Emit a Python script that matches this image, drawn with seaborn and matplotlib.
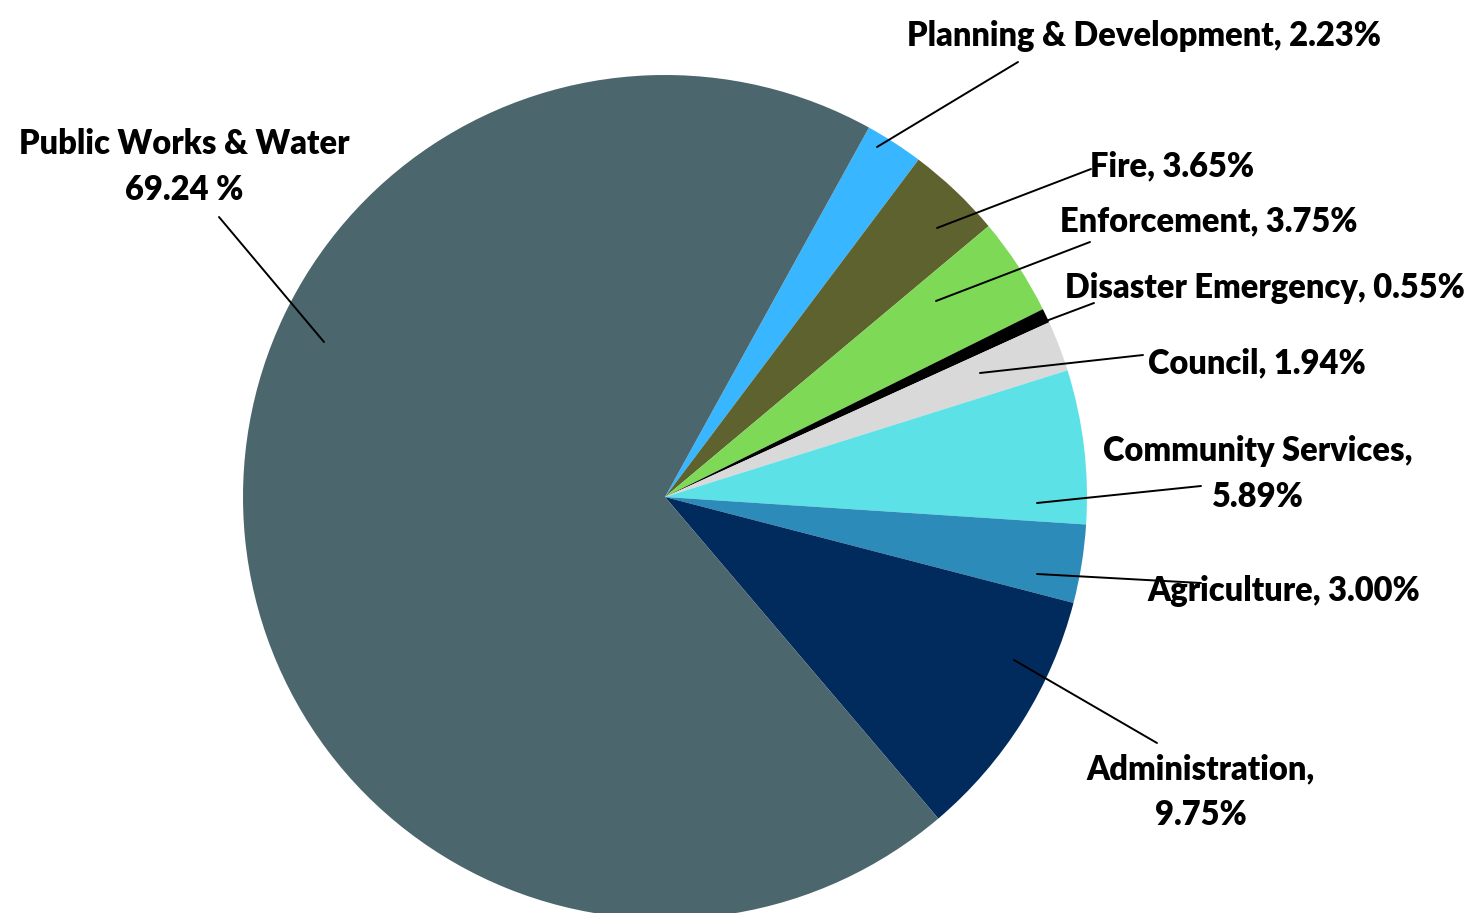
import numpy as np
import seaborn as sns
import matplotlib.pyplot as plt

# data (clockwise from the top)
departamentos = ["Planning & Development", "Fire", "Enforcement", "Disaster Emergency",
                 "Council", "Community Services", "Agriculture", "Administration",
                 "Public Works & Water"]
porcentajes = [2.23, 3.65, 3.75, 0.55, 1.94, 5.89, 3.00, 9.75, 69.24]
colores = ["#38b6ff", "#5e622f", "#7ed957", "#000000", "#d9d9d9",
           "#5ce1e6", "#2d8bba", "#022b5d", "#4b666c"]
etiquetas = ["Planning & Development, 2.23%", "Fire, 3.65%", "Enforcement, 3.75%",
             "Disaster Emergency, 0.55%", "Council, 1.94%", "Community Services,\n5.89%",
             "Agriculture, 3.00%", "Administration,\n9.75%", "Public Works & Water\n69.24 %"]

# label layout in pixels: leader line ends, then text anchor (baseline of last line)
W, H = 1484, 913
lineas = [((877, 147), (1018, 62)), ((937, 228), (1091, 169)), ((936, 301), (1090, 242)),
          ((1046, 321), (1094, 303)), ((980, 373), (1143, 355)), ((1037, 503), (1201, 486)),
          ((1037, 574), (1201, 583)), ((1014, 660), (1157, 743)), ((324, 342), (219, 217))]
textos = [(907, 46, "left"), (1090, 176, "left"), (1060, 231, "left"), (1065, 298, "left"),
          (1148, 373, "left"), (1258, 507, "center"), (1147, 601, "left"),
          (1201, 825, "center"), (184, 200, "center")]

sns.set_theme(style="white")
plt.rcParams['font.family'] = ['Lato', 'DejaVu Sans']

fig = plt.figure(figsize=(W / 100, H / 100), dpi=100)
cx, cy, r = 665, 497, 422
ax = fig.add_axes([(cx - r) / W, (H - cy - r) / H, 2 * r / W, 2 * r / H])

ax.pie(porcentajes, colors=colores, startangle=61.1, counterclock=False,
       radius=1, wedgeprops={"linewidth": 0})
ax.set_xlim(-1, 1)
ax.set_ylim(-1, 1)
ax.axis("off")

for (p0, p1), (tx, ty, ha), txt in zip(lineas, textos, etiquetas):
    fig.add_artist(plt.Line2D([p0[0] / W, p1[0] / W], [1 - p0[1] / H, 1 - p1[1] / H],
                              color="black", linewidth=1.4, transform=fig.transFigure))
    fig.text(tx / W, 1 - ty / H, txt, ha=ha, va="baseline", fontsize=23.5,
             fontweight="heavy", color="black", linespacing=1.52,
             multialignment="center")

plt.savefig("out.png", dpi=100, facecolor="white")
